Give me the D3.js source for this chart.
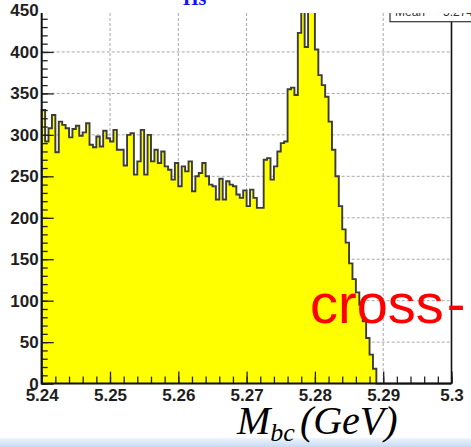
<!DOCTYPE html>
<html><head><meta charset="utf-8">
<script src="https://cdn.jsdelivr.net/npm/d3@7"></script>
<style>body{margin:0;background:#fff;overflow:hidden}svg{display:block}</style>
</head><body>
<svg id="c" width="471" height="447"></svg>
<script>
// ---- data ----
const binLow = 5.24, binHigh = 5.30, nBins = 120;
const counts = [
 330,292,308,324,279,316,312,308,297,307,
 311,299,303,314,288,285,298,286,305,296,
 292,306,282,282,263,300,302,252,268,306,
 252,300,268,282,266,280,262,258,246,266,
 238,262,256,268,232,250,254,266,250,240,
 238,222,247,222,244,240,238,228,224,233,
 214,234,224,212,212,270,272,246,262,280,
 290,292,355,357,348,423,470,406,470,465,
 403,372,360,346,316,282,250,214,186,170,
 145,126,110,95,75,55,35,18,0,0,
 0,0,0,0,0,0,0,0,0,0,
 0,0,0,0,0,0,0,0,0,0
];
const xMajorTicks = [5.24,5.25,5.26,5.27,5.28,5.29,5.30];
const xTickLabels = ["5.24","5.25","5.26","5.27","5.28","5.29","5.3"];
const yMajorTicks = [0,50,100,150,200,250,300,350,400,450];
const statLabels = ["Mean","5.274"];
const topText = "Hs";
const overlayText = "cross-";

// ---- layout ----
const svg = d3.select("#c");
const L = 41.7, R = 451.5, B = 383.6, T = 13;
const x = d3.scaleLinear().domain([binLow, binHigh]).range([L, R]);
const y = d3.scaleLinear().domain([0, 450]).range([B, 10.5]);
const bw = (binHigh - binLow) / nBins;

const defs = svg.append("defs");
defs.append("clipPath").attr("id","plotclip").append("rect")
  .attr("x", L - 2).attr("y", T).attr("width", R - L + 4).attr("height", B - T + 2);
const grad = defs.append("linearGradient").attr("id","band").attr("x1",0).attr("y1",0).attr("x2",0).attr("y2",1);
grad.append("stop").attr("offset","0%").attr("stop-color","#eef5fd");
grad.append("stop").attr("offset","100%").attr("stop-color","#c6daf2");

// grid
const grid = svg.append("g").attr("stroke","#a8a8a8").attr("stroke-width",1).attr("stroke-dasharray","3,2");
grid.selectAll("line.v").data(xMajorTicks.slice(1, -1)).join("line")
  .attr("x1", d => x(d)).attr("x2", d => x(d)).attr("y1", T).attr("y2", B);
grid.selectAll("line.h").data(yMajorTicks.filter(d => d > 0 && y(d) > T)).join("line")
  .attr("x1", L).attr("x2", R).attr("y1", d => y(d)).attr("y2", d => y(d));

// histogram
const pts = counts.map((c, i) => ({ x: binLow + i * bw, c }));
pts.push({ x: binHigh, c: counts[counts.length - 1] });
const area = d3.area().curve(d3.curveStepAfter).x(d => x(d.x)).y0(y(0)).y1(d => y(d.c));
const line = d3.line().curve(d3.curveStepAfter).x(d => x(d.x)).y(d => y(d.c));
const hg = svg.append("g").attr("clip-path","url(#plotclip)");
hg.append("path").datum(pts).attr("d", area).attr("fill","#ffff00");
hg.append("path").datum([{x: binLow, c: 0}].concat(pts)).attr("d", line)
  .attr("fill","none").attr("stroke","#3c3c3c").attr("stroke-width",1.9);

// axes
const fontFam = "'Liberation Sans', Arial, Helvetica, sans-serif";
const xMinor = d3.range(0, 31).map(i => binLow + i * 0.002);
const gxMinor = svg.append("g").attr("transform",`translate(0,${B})`)
  .call(d3.axisBottom(x).tickValues(xMinor).tickSize(-7).tickFormat(""));
const gx = svg.append("g").attr("transform",`translate(0,${B})`)
  .call(d3.axisBottom(x).tickValues(xMajorTicks).tickSize(-12).tickPadding(5)
    .tickFormat((d, i) => xTickLabels[i]));
const yMinor = d3.range(0, 451, 10);
const gyMinor = svg.append("g").attr("transform",`translate(${L},0)`)
  .call(d3.axisLeft(y).tickValues(yMinor).tickSize(-6).tickFormat(""));
const gy = svg.append("g").attr("transform",`translate(${L},0)`)
  .call(d3.axisLeft(y).tickValues(yMajorTicks).tickSize(-12).tickPadding(3));
[gx, gy, gxMinor, gyMinor].forEach(g => {
  g.select(".domain").remove();
  g.selectAll(".tick line").attr("stroke","#222").attr("stroke-width",1.3);
  g.selectAll("text").attr("font-family", fontFam).attr("font-weight","bold")
    .attr("font-size","17px").attr("fill","#1e1e1e");
});
// axis lines / frame
svg.append("line").attr("x1",L).attr("x2",L).attr("y1",T).attr("y2",B+1).attr("stroke","#111").attr("stroke-width",2);
svg.append("line").attr("x1",L).attr("x2",R).attr("y1",B).attr("y2",B).attr("stroke","#111").attr("stroke-width",2);
svg.append("line").attr("x1",R).attr("x2",R).attr("y1",21.7).attr("y2",B).attr("stroke","#111").attr("stroke-width",1.6);

// stat box
svg.append("rect").attr("x",390).attr("y",-20).attr("width",110).attr("height",41.7)
  .attr("fill","#fff").attr("stroke","#333").attr("stroke-width",1.2);
svg.append("text").attr("x",395).attr("y",15.5).attr("font-family",fontFam).attr("font-size","12px")
  .attr("fill","#333").text(statLabels[0]);
svg.append("text").attr("x",443).attr("y",15.5).attr("font-family",fontFam).attr("font-size","12px")
  .attr("fill","#333").text(statLabels[1]);

// white overlay at top (cropped slide element)
svg.append("rect").attr("x",L - 1).attr("y",0).attr("width",471).attr("height",T).attr("fill","#fff");
svg.append("text").attr("x",183).attr("y",4.5).attr("font-family","'Liberation Serif', 'Times New Roman', serif")
  .attr("font-weight","bold").attr("font-size","20px").attr("fill","#1010ff").text(topText);

// red overlay text
svg.append("text").attr("x",310).attr("y",323).attr("font-family",fontFam).attr("font-size","56px")
  .attr("fill","#ff0000").text(overlayText.slice(0,-1))
  .append("tspan").attr("dx",3).text(overlayText.slice(-1));

// bottom band
svg.append("rect").attr("x",0).attr("y",438).attr("width",471).attr("height",9).attr("fill","url(#band)");

// axis title
const serif = "'Liberation Serif', 'Times New Roman', serif";
const t = svg.append("text").attr("x",237).attr("y",434).attr("font-family",serif)
  .attr("font-style","italic").attr("font-size","40px").attr("fill","#000");
t.append("tspan").text("M");
t.append("tspan").attr("font-size","26px").attr("dy",7).text("bc");
t.append("tspan").attr("dy",-7).attr("dx",5).text("(GeV)");
</script>
</body></html>
